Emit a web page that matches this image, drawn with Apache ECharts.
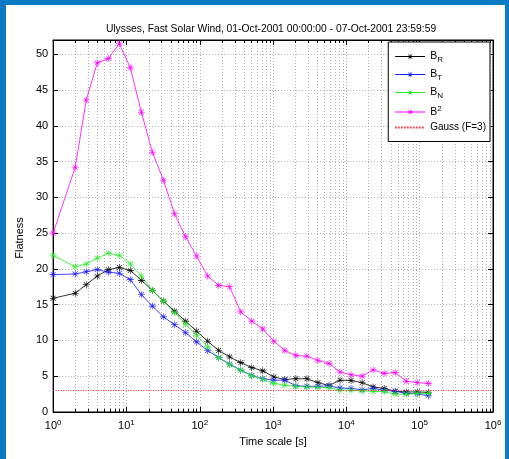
<!DOCTYPE html>
<html>
<head>
<meta charset="utf-8">
<script src="https://cdn.jsdelivr.net/npm/echarts@6/dist/echarts.min.js"></script>
<style>
  html, body { margin: 0; padding: 0; width: 509px; height: 459px; overflow: hidden; background: #0b7cc3; }
  #chart { position: absolute; left: 6px; top: 5px; width: 499px; height: 454px; background: #ffffff; }
</style>
</head>
<body>
<div id="chart"></div>
<script>
// Time scales (s) at which the flatness was computed
const timeScales = [1, 2, 2.83, 4, 5.66, 8, 11.3, 16, 22.6, 32, 45.3, 64, 90.5, 128, 181, 256,
  362, 512, 724, 1024, 1448, 2048, 2896, 4096, 5793, 8192, 11585, 16384, 23170, 32768,
  46341, 65536, 92682, 131072];

// Flatness of each magnetic field component and of |B|^2
const flatBR = [15.9, 16.6, 17.8, 19.0, 19.9, 20.2, 19.8, 18.4, 17.0, 15.5, 14.1, 12.7, 11.3, 9.9, 8.6, 7.7,
  6.9, 6.2, 5.75, 4.9, 4.55, 4.65, 4.65, 4.1, 3.7, 4.45, 4.4, 4.1, 3.5, 3.3, 2.9, 2.8, 2.8, 2.75];
const flatBT = [19.2, 19.3, 19.6, 19.9, 19.55, 19.4, 18.5, 16.4, 14.8, 13.3, 12.2, 11.1, 9.8, 8.6, 7.6, 6.7,
  5.85, 5.1, 4.65, 4.45, 4.45, 3.65, 3.6, 3.6, 3.65, 3.35, 3.3, 3.1, 3.3, 3.05, 2.9, 2.6, 2.55, 2.25];
const flatBN = [21.9, 20.3, 20.7, 21.5, 22.2, 21.9, 20.7, 19.0, 17.0, 15.5, 13.9, 12.3, 10.7, 9.1, 7.6, 6.6,
  5.85, 5.05, 4.6, 4.0, 3.75, 3.6, 3.5, 3.45, 3.4, 3.05, 3.05, 2.95, 2.9, 2.85, 2.5, 2.5, 2.6, 2.6];
const flatB2 = [25.0, 34.2, 43.6, 48.8, 49.4, 51.5, 48.1, 41.9, 36.3, 32.4, 27.7, 24.5, 21.8, 19.0, 17.7, 17.5,
  14.0, 12.7, 11.6, 9.9, 8.6, 7.9, 7.8, 7.2, 6.8, 5.6, 5.2, 5.0, 5.9, 5.4, 5.5, 4.3, 4.1, 4.0];

// Gaussian reference level
const gaussLevel = 3;
const gaussSpan = [1, 1e6];

const seriesNames = ['BR', 'BT', 'BN', 'B2', 'Gauss (F=3)'];
const legendText = {
  'BR': '{m|B}{sub|R}',
  'BT': '{m|B}{sub|T}',
  'BN': '{m|B}{sub|N}',
  'B2': '{m|B}{sup|2}',
  'Gauss (F=3)': '{g|Gauss (F=3)}'
};

const Y_MAX = 52;
const FONT = 'Liberation Sans, Arial, Helvetica, sans-serif';
const GRID_COLOR = '#b0b0b0';
const GAUSS_COLOR = '#ff2020';
const GAUSS_DASH = [1, 1.5];

// Asterisk marker: vertical, horizontal and two diagonal strokes
const ASTERISK = 'path://M46,0L54,0L54,100L46,100Z M0,46L100,46L100,54L0,54Z ' +
  'M12,18L18,12L88,82L82,88Z M82,12L88,18L18,88L12,82Z';

// Minor log-decade positions (2..9 x 10^d)
const minorTicks = [];
for (let d = 0; d < 6; d++) {
  for (let m = 2; m <= 9; m++) minorTicks.push([m * Math.pow(10, d), 0]);
}

function pair(xs, ys) { return xs.map((x, i) => [x, ys[i]]); }

function lineSeries(name, values, color) {
  return {
    name: name,
    type: 'line',
    data: pair(timeScales, values),
    symbol: ASTERISK,
    symbolSize: 7,
    showSymbol: true,
    itemStyle: { color: color },
    lineStyle: { color: color, width: 0.8 },
    z: 3
  };
}

const chart = echarts.init(document.getElementById('chart'), null, { renderer: 'canvas' });

const option = {
  animation: false,
  backgroundColor: '#ffffff',
  textStyle: { fontFamily: FONT },
  title: {
    text: 'Ulysses, Fast Solar Wind, 01-Oct-2001 00:00:00 - 07-Oct-2001 23:59:59',
    left: 260,
    top: 14,
    textAlign: 'center',
    textStyle: { fontSize: 10.3, fontWeight: 'normal', color: '#000', fontFamily: FONT }
  },
  grid: {
    left: 43, top: 35, right: 12, bottom: 47,
    show: true, borderColor: '#000', borderWidth: 1, backgroundColor: 'transparent'
  },
  legend: {
    data: seriesNames.map((n) => n === 'Gauss (F=3)'
      ? { name: n, itemStyle: { opacity: 0 },
          lineStyle: { color: GAUSS_COLOR, width: 1.8, type: [1.5, 1.5], opacity: 1 } }
      : { name: n }),
    orient: 'vertical',
    right: 15,
    top: 37,
    backgroundColor: '#ffffff',
    borderColor: '#000',
    borderWidth: 1,
    borderRadius: 0,
    padding: [9, 4, 9, 6],
    itemWidth: 30,
    itemHeight: 7,
    itemGap: 5,
    lineStyle: { width: 1 },
    formatter: (name) => legendText[name],
    textStyle: {
      color: '#000',
      fontFamily: FONT,
      rich: {
        m: { fontSize: 10.5, fontFamily: FONT, color: '#000' },
        sub: { fontSize: 8, fontFamily: FONT, color: '#000', padding: [7, 0, 0, 0] },
        sup: { fontSize: 8, fontFamily: FONT, color: '#000', padding: [0, 0, 6, 0] },
        g: { fontSize: 10, fontFamily: FONT, color: '#000' }
      }
    }
  },
  xAxis: [
    {
      type: 'log', logBase: 10, min: 1, max: 1e6,
      name: 'Time scale [s]', nameLocation: 'middle', nameGap: 19,
      nameTextStyle: { fontSize: 11, color: '#000', fontFamily: FONT },
      axisLine: { show: true, onZero: false, lineStyle: { color: '#000', width: 1 } },
      axisTick: { show: true, inside: true, length: 5, lineStyle: { color: '#000' } },
      axisLabel: {
        color: '#000', margin: 7,
        formatter: (v) => '{b|10}{e|' + Math.round(Math.log10(v)) + '}',
        rich: {
          b: { fontSize: 11, fontFamily: FONT, color: '#000' },
          e: { fontSize: 8, fontFamily: FONT, color: '#000', padding: [0, 0, 6, 0] }
        }
      },
      splitLine: { show: true, lineStyle: { color: GRID_COLOR, type: [1, 2], width: 1 } }
    },
    {
      type: 'log', logBase: 10, min: 1, max: 1e6, position: 'top',
      axisLine: { show: true, onZero: false, lineStyle: { color: '#000', width: 1 } },
      axisTick: { show: true, inside: true, length: 5, lineStyle: { color: '#000' } },
      axisLabel: { show: false },
      splitLine: { show: false }
    }
  ],
  yAxis: [
    {
      type: 'value', min: 0, max: Y_MAX, interval: 5,
      name: 'Flatness', nameLocation: 'middle', nameGap: 16, nameRotate: 90,
      nameTextStyle: { fontSize: 11, color: '#000', fontFamily: FONT, padding: [0, 24, 0, 0] },
      axisLine: { show: true, onZero: false, lineStyle: { color: '#000', width: 1 } },
      axisTick: { show: true, inside: true, length: 5, lineStyle: { color: '#000' } },
      axisLabel: { color: '#000', fontSize: 11, fontFamily: FONT, margin: 5, showMaxLabel: false },
      splitLine: { show: true, lineStyle: { color: GRID_COLOR, type: [1, 2], width: 1 } }
    },
    {
      type: 'value', min: 0, max: Y_MAX, interval: 5, position: 'right',
      axisLine: { show: true, onZero: false, lineStyle: { color: '#000', width: 1 } },
      axisTick: { show: true, inside: true, length: 5, lineStyle: { color: '#000' } },
      axisLabel: { show: false },
      splitLine: { show: false }
    }
  ],
  series: [
    {
      name: 'minor-grid',
      type: 'custom',
      data: minorTicks,
      encode: { x: 0, y: 1 },
      silent: true,
      z: 1,
      renderItem: (params, api) => {
        const v = api.value(0);
        const b = api.coord([v, 0]);
        const t = api.coord([v, Y_MAX]);
        const x = Math.round(b[0]) + 0.5;
        return {
          type: 'group',
          children: [
            { type: 'line', shape: { x1: x, y1: b[1], x2: x, y2: t[1] },
              style: { stroke: GRID_COLOR, lineWidth: 1, lineDash: [1, 2] } },
            { type: 'line', shape: { x1: x, y1: b[1], x2: x, y2: b[1] - 3 },
              style: { stroke: '#000', lineWidth: 1 } },
            { type: 'line', shape: { x1: x, y1: t[1], x2: x, y2: t[1] + 3 },
              style: { stroke: '#000', lineWidth: 1 } }
          ]
        };
      }
    },
    lineSeries('BR', flatBR, '#000000'),
    lineSeries('BT', flatBT, '#1a1aff'),
    lineSeries('BN', flatBN, '#22ee22'),
    lineSeries('B2', flatB2, '#ff00ff'),
    {
      name: 'Gauss (F=3)',
      type: 'line',
      data: gaussSpan.map((x) => [x, gaussLevel]),
      symbol: 'none',
      showSymbol: false,
      itemStyle: { color: GAUSS_COLOR },
      lineStyle: { color: GAUSS_COLOR, width: 1, type: GAUSS_DASH },
      z: 4
    }
  ]
};

chart.setOption(option);
</script>
</body>
</html>
